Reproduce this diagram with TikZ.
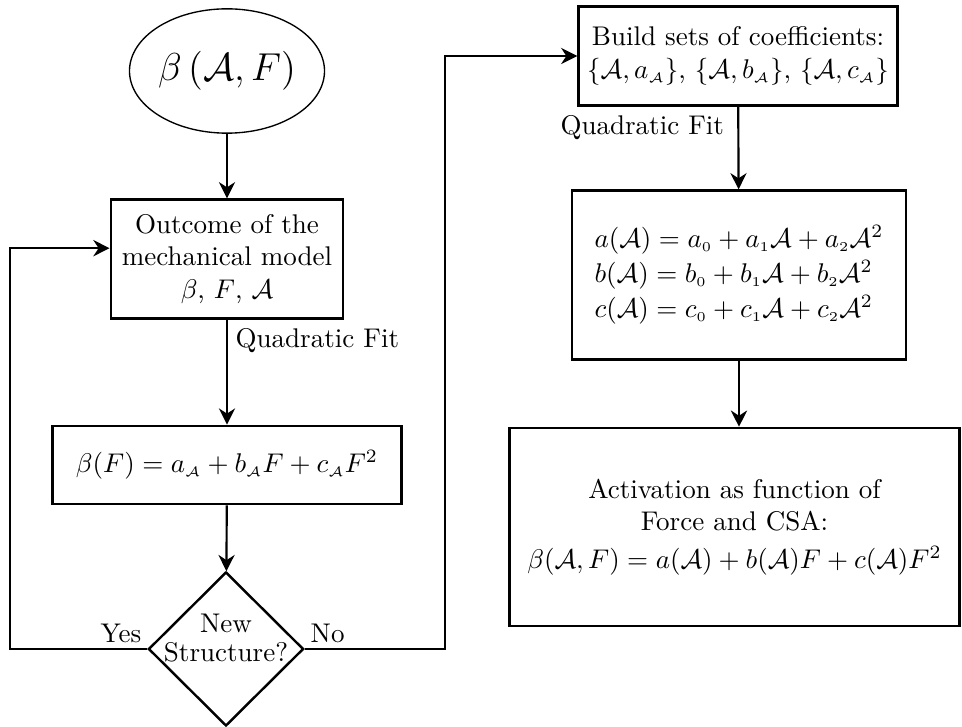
\documentclass[tikz,border=0pt]{standalone}
\usepackage{amsmath,amsfonts}
\usepackage{tikz}
\usetikzlibrary{arrows.meta,shapes.geometric,calc}

\begin{document}
\begin{tikzpicture}[
  x=0.37pt, y=-0.37pt,
  box/.style={rectangle, draw, line width=0.9pt, align=center, inner sep=2pt},
  startnode/.style={ellipse, draw, line width=0.5pt, inner sep=0pt},
  decision/.style={diamond, draw, line width=0.9pt, inner sep=0pt},
  arrow/.style={-{Stealth[length=6pt,width=6pt]}, line width=0.8pt},
  tag/.style={inner sep=2pt}
]
\useasboundingbox (0,0) rectangle (962,727);

% Left column
\node[startnode, minimum width=68pt, minimum height=46pt] (start) at (227,71) {\fontsize{15.5}{18}\selectfont$\beta\left(\mathcal{A},F\right)$};
\node[box, minimum width=86pt, minimum height=44pt] (model) at (227,259) {Outcome of the\\mechanical model\\$\beta$, $F$, $\mathcal{A}$};
\node[box, minimum width=129pt, minimum height=29pt] (betaF) at (227,465) {$\beta(F) = a_{\scriptscriptstyle\mathcal{A}} + b_{\scriptscriptstyle\mathcal{A}}F + c_{\scriptscriptstyle\mathcal{A}}F^2$};
\node[decision, minimum width=57.4pt, minimum height=57pt] (newstr) at (226,649) {};
\node[align=center, inner sep=0pt] (newtext) at (226,638) {New\\[-1pt]Structure?};

% Right column
\node[box, minimum width=118pt, minimum height=36.6pt] (sets) at (738,56) {Build sets of coefficients:\\$\{\mathcal{A},a_{\scriptscriptstyle\mathcal{A}}\}$, $\{\mathcal{A},b_{\scriptscriptstyle\mathcal{A}}\}$, $\{\mathcal{A},c_{\scriptscriptstyle\mathcal{A}}\}$};
\node[box, minimum width=123.6pt, minimum height=62.5pt, align=left] (coef) at (739,275) {$a(\mathcal{A}) = a_{\scriptscriptstyle 0} + a_{\scriptscriptstyle 1}\mathcal{A} + a_{\scriptscriptstyle 2}\mathcal{A}^2$\\[1pt]$b(\mathcal{A}) = b_{\scriptscriptstyle 0} + b_{\scriptscriptstyle 1}\mathcal{A} + b_{\scriptscriptstyle 2}\mathcal{A}^2$\\[1pt]$c(\mathcal{A}) = c_{\scriptscriptstyle 0} + c_{\scriptscriptstyle 1}\mathcal{A} + c_{\scriptscriptstyle 2}\mathcal{A}^2$};
\node[box, minimum width=166.5pt, minimum height=73.3pt] (result) at (734.5,527) {Activation as function of\\Force and CSA:\\[2pt]$\beta(\mathcal{A},F) = a(\mathcal{A}) + b(\mathcal{A})F + c(\mathcal{A})F^2$};

% Labels
\node[tag, anchor=north west] (fitA) at ($(model.south)+(1pt,-1pt)$) {Quadratic Fit};
\node[tag, anchor=north east] (fitB) at ($(sets.south)+(-3pt,-1pt)$) {Quadratic Fit};
\node[tag, anchor=south east] (yes) at (newstr.west) {Yes};
\node[tag, anchor=south west] (no) at (newstr.east) {No};

% Bends
\coordinate (loopx) at (10,0);
\coordinate (jumpx) at (445,0);

% Arrows
\draw[arrow] (start) -- (model);
\draw[arrow] (model) -- (betaF);
\draw[arrow] (betaF) -- (newstr);
\draw[arrow] (newstr.west) -- (newstr.west -| loopx) |- ([yshift=4pt]model.west);
\draw[arrow] (newstr.east) -- (newstr.east -| jumpx) |- (sets.west);
\draw[arrow] (sets) -- (coef);
\draw[arrow] (coef.south) -- (coef.south |- result.north);

\end{tikzpicture}
\end{document}
